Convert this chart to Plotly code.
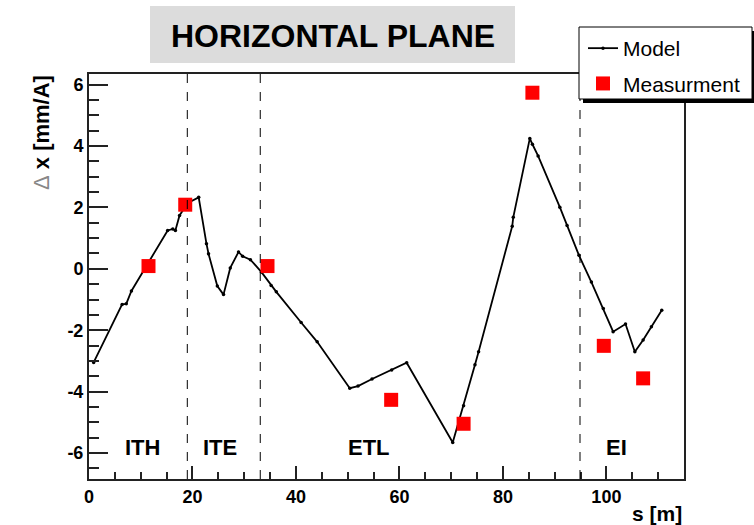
import plotly.graph_objects as go

# ---- data ----
model_s = [0.9, 6.4, 7.2, 8.2, 15.2, 16.2, 16.7, 17.5, 19.1, 21.2, 22.7, 23.1, 24.8, 26.0,
           27.3, 28.9, 29.7, 31.2, 33.3, 35.2, 36.2, 41.0, 44.1, 50.4, 52.0, 54.7, 58.5,
           61.4, 70.3, 72.4, 74.6, 75.3, 81.8, 82.0, 85.2, 85.7, 86.8, 91.0, 92.4, 94.7,
           97.1, 99.4, 101.3, 103.7, 105.5, 107.1, 108.7, 110.7]
model_dx = [-3.05, -1.16, -1.14, -0.72, 1.25, 1.30, 1.25, 1.74, 2.15, 2.33, 0.82, 0.49, -0.56,
            -0.84, 0.03, 0.55, 0.41, 0.30, -0.10, -0.54, -0.75, -1.75, -2.38, -3.89, -3.82,
            -3.59, -3.30, -3.06, -5.66, -4.46, -3.13, -2.70, 1.39, 1.68, 4.25, 4.06, 3.68,
            2.01, 1.41, 0.44, -0.43, -1.29, -2.05, -1.80, -2.70, -2.32, -1.89, -1.35]

meas_s = [11.5, 18.6, 34.5, 58.4, 72.4, 85.7, 99.5, 107.1]
meas_dx = [0.09, 2.09, 0.09, -4.27, -5.05, 5.74, -2.51, -3.57]

section_bounds = [19.0, 33.1, 94.9]
section_names = ["ITH", "ITE", "ETL", "EI"]
section_label_s = [10.4, 25.4, 54.1, 102.0]
section_label_y = -5.83

x_tickvals = [0, 20, 40, 60, 80, 100]
x_ticktext = ["0", "20", "40", "60", "80", "100"]
y_tickvals = [-6, -4, -2, 0, 2, 4, 6]
y_ticktext = ["-6", "-4", "-2", "0", "2", "4", "6"]

W, H = 754, 525
L, R, T, B = 89, 70, 74, 46
PW, PH = W - L - R, H - T - B

def px_x(p):
    return (p - L) / PW

def px_y(p):
    return (H - B - p) / PH

FONT = "Liberation Sans"

fig = go.Figure()
fig.add_trace(go.Scatter(
    x=model_s, y=model_dx, mode="lines+markers", name="Model",
    line=dict(color="black", width=1.8),
    marker=dict(color="black", size=3.5, symbol="circle"),
    legendgroup="a",
))
fig.add_trace(go.Scatter(
    x=meas_s, y=meas_dx, mode="markers", name="Measurment",
    marker=dict(color="#ff0000", size=14, symbol="square", line=dict(width=0)),
    legendgroup="b",
))

shapes = []
for b in section_bounds:
    shapes.append(dict(type="line", xref="x", yref="paper", x0=b, x1=b, y0=0, y1=1,
                       line=dict(color="black", width=1, dash="dash"), layer="above"))
# title box
shapes.append(dict(type="rect", xref="paper", yref="paper",
                   x0=px_x(150), x1=px_x(515), y0=px_y(63), y1=px_y(6),
                   fillcolor="#dcdcdc", line=dict(width=0), layer="below"))
# legend shadow and box
shapes.append(dict(type="rect", xref="paper", yref="paper",
                   x0=px_x(583), x1=px_x(756), y0=px_y(103), y1=px_y(31),
                   fillcolor="black", line=dict(width=0), layer="above"))
shapes.append(dict(type="rect", xref="paper", yref="paper",
                   x0=px_x(579), x1=px_x(752), y0=px_y(99), y1=px_y(27),
                   fillcolor="white", line=dict(color="black", width=1), layer="above"))

annotations = []
for name, s in zip(section_names, section_label_s):
    annotations.append(dict(x=s, y=section_label_y, xref="x", yref="y", text=name,
                            showarrow=False, xanchor="center", yanchor="middle",
                            font=dict(family=FONT, size=22, color="black", weight="bold")))
# title
annotations.append(dict(x=px_x(333), y=px_y(36), xref="paper", yref="paper",
                        text="HORIZONTAL PLANE", showarrow=False,
                        xanchor="center", yanchor="middle",
                        font=dict(family=FONT, size=32, color="black", weight="bold")))
# y-axis title
annotations.append(dict(x=px_x(41), y=px_y(133), xref="paper", yref="paper",
                        text="<span style='color:#888888;font-weight:normal'>Δ</span> x [mm/A]",
                        showarrow=False, textangle=-90, xanchor="center", yanchor="middle",
                        font=dict(family=FONT, size=22, color="black", weight="bold")))
# x-axis title
annotations.append(dict(x=1, y=px_y(513), xref="paper", yref="paper", text="s [m]",
                        showarrow=False, xanchor="right", yanchor="middle",
                        font=dict(family=FONT, size=21, color="black", weight="bold")))

axis_common = dict(showgrid=False, zeroline=False, showline=True, linecolor="#222222",
                   linewidth=2, mirror=True, ticks="inside", tickcolor="#222222",
                   tickwidth=1.5, tickmode="array",
                   tickfont=dict(family=FONT, size=18, color="black", weight="bold"))

fig.update_layout(
    width=W, height=H,
    margin=dict(l=L, r=R, t=T, b=B, autoexpand=False),
    paper_bgcolor="white", plot_bgcolor="white",
    xaxis=dict(range=[0, 115], tickvals=x_tickvals, ticktext=x_ticktext, ticklen=13,
               minor=dict(dtick=5, ticklen=7, ticks="inside", tickcolor="#222222", tickwidth=1.5),
               **axis_common),
    yaxis=dict(range=[-6.85, 6.35], tickvals=y_tickvals, ticktext=y_ticktext, ticklen=19,
               minor=dict(dtick=0.5, ticklen=10, ticks="inside", tickcolor="#222222", tickwidth=1.5),
               **axis_common),
    shapes=shapes,
    annotations=annotations,
    showlegend=True,
    legend=dict(x=583 / W, y=1 - 28 / H, xref="container", yref="container",
                xanchor="left", yanchor="top", bgcolor="rgba(0,0,0,0)",
                borderwidth=0, font=dict(family=FONT, size=21, color="black"),
                tracegroupgap=5, itemwidth=30, traceorder="grouped"),
)

fig.write_html("out.html")
